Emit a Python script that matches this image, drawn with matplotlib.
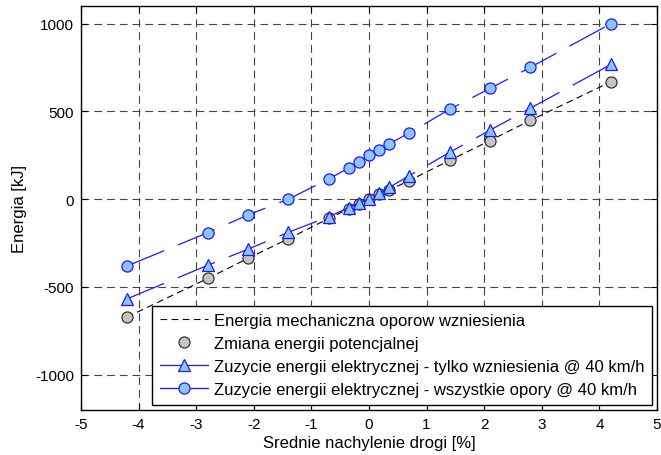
import numpy as np
import matplotlib
matplotlib.use('Agg')
import matplotlib.pyplot as plt
from matplotlib.lines import Line2D

plt.rcParams['font.family'] = ['Liberation Sans', 'DejaVu Sans']
plt.rcParams['font.size'] = 11
plt.rcParams['axes.unicode_minus'] = False

# average road gradient [%]
nachylenie = [-4.2, -2.8, -2.1, -1.4, -0.7, -0.35, -0.175, 0.0,
              0.175, 0.35, 0.7, 1.4, 2.1, 2.8, 4.2]
# change of potential energy [kJ]
e_pot = [-672, -452, -337, -226, -110, -55, -27, 0,
         27, 52, 106, 221, 334, 449, 669]
# mechanical energy of climbing resistance (line)
e_mech = [-672, -452, -337, -226, -110, -55, -27, 0,
          27, 52, 106, 221, 334, 449, 669]
# electric energy use - climbing only @ 40 km/h
e_wzn = [-568, -377, -285, -189, -100, -48, -20, 2,
         34, 67, 134, 267, 393, 518, 768]
# electric energy use - all resistances @ 40 km/h
e_all = [-381, -191, -90, 0, 115, 178, 212, 252,
         283, 315, 378, 512, 631, 751, 1000]

labels = ['Energia mechaniczna oporow wzniesienia',
          'Zmiana energii potencjalnej',
          'Zuzycie energii elektrycznej - tylko wzniesienia @ 40 km/h',
          'Zuzycie energii elektrycznej - wszystkie opory @ 40 km/h']

fig = plt.figure(figsize=(6.61, 4.56), dpi=100)
ax = fig.add_axes([0.1225, 0.0993, 0.8715, 0.885])

blue = '#1a1aff'
light = '#8ec5ff'

ax.plot(nachylenie, e_mech, color='black', lw=0.8, linestyle=(0, (6, 4)), zorder=3)
ax.plot(nachylenie, e_pot, linestyle='none', marker='o', ms=8,
        mfc='#c4c4c4', mec='#222222', mew=0.8, zorder=4)
ax.plot(nachylenie, e_wzn, color=blue, lw=0.9, linestyle=(0, (32, 12)),
        marker='^', ms=9, mfc=light, mec=blue, mew=0.9, zorder=5)
ax.plot(nachylenie, e_all, color=blue, lw=0.9, linestyle=(0, (32, 12)),
        marker='o', ms=8, mfc=light, mec=blue, mew=0.9, zorder=6)

ax.set_xlim(-5, 5)
ax.set_ylim(-1200, 1100)
ax.set_xticks(np.arange(-5, 6, 1))
ax.set_yticks([-1000, -500, 0, 500, 1000])
ax.tick_params(direction='in', top=True, right=True, length=4, pad=5)
ax.grid(True, color='#444444', linestyle=(0, (7, 4.5)), lw=0.8)
ax.set_axisbelow(True)
for s in ax.spines.values():
    s.set_linewidth(1.0)

ax.set_xlabel('Srednie nachylenie drogi [%]', fontsize=12, labelpad=3)
ax.set_ylabel('Energia [kJ]', fontsize=12, labelpad=6)

handles = [
    Line2D([], [], color='black', lw=0.8, linestyle=(0, (6, 4))),
    Line2D([], [], linestyle='none', marker='o', ms=8, mfc='#c4c4c4', mec='#222222', mew=0.8),
    Line2D([], [], color=blue, lw=0.9, marker='^', ms=9, mfc=light, mec=blue, mew=0.9),
    Line2D([], [], color=blue, lw=0.9, marker='o', ms=8, mfc=light, mec=blue, mew=0.9),
]
leg = ax.legend(handles, labels, loc='lower right', fancybox=False, framealpha=1,
                edgecolor='black', fontsize=12, handlelength=2.9, borderaxespad=0.3,
                labelspacing=0.48, handletextpad=0.35, borderpad=0.45)
leg.get_frame().set_linewidth(1.0)

fig.savefig('out.png', dpi=100)
